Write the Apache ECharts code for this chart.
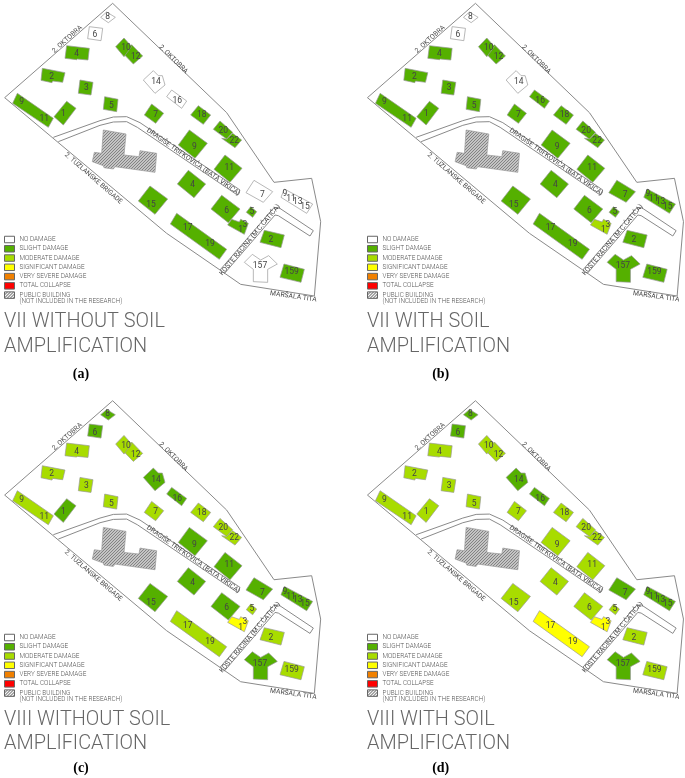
<!DOCTYPE html>
<html><head><meta charset="utf-8">
<style>html,body{margin:0;padding:0;background:#fff}#c{width:685px;height:778px}</style>
<script src="https://cdn.jsdelivr.net/npm/echarts@6/dist/echarts.min.js"></script>
</head><body><div id="c"></div>
<script>
// Site plan data, in map units shared by all four panels
const boundary = [[338,10],[680,338],[822,547],[935,535],[962,665],[943,888],[722,853],[660,810],[500,700],[14,293],[338,10]];
const roadA = [[160,412],[300,362],[340,351],[380,350],[420,368],[720,570],[712,585],[412,382],[380,365],[340,366],[300,376],[175,425]];
const roadB = [[660,810],[820,625],[835,622],[940,692],[930,708],[835,647],[825,645],[672,822]];
const buildingNames = ['b1','b9-11','b2','b3','b5','b4','b6','b8','b12','b10','b14','b16','b7','b18','b22','b20','B9','B11','B4','B15','B6','B7','b5s','b3-1','b17-19','B2','b157','b159','b9-15','pub'];
const outlines = [
 [[200,304],[228,325],[190,375],[162,350]],
 [[52,280],[160,355],[145,382],[38,310]],
 [[127,205],[195,218],[188,247],[158,243],[156,248],[123,241]],
 [[240,240],[279,247],[273,285],[235,280]],
 [[314,290],[354,298],[350,335],[310,328]],
 [[200,137],[268,145],[264,180],[232,177],[230,179],[195,175]],
 [[268,80],[308,85],[303,122],[263,116]],
 [[320,36],[346,52],[325,68],[302,52]],
 [[395,134],[428,168],[400,192],[369,160]],
 [[372,114],[395,140],[372,170],[347,140]],
 [[460,212],[475,227],[487,227],[495,255],[465,280],[430,240]],
 [[515,270],[560,303],[545,325],[500,290]],
 [[455,312],[491,340],[467,370],[433,345]],
 [[595,317],[632,345],[610,373],[572,345]],
 [[698,400],[725,420],[705,443],[665,415],[680,417]],
 [[660,363],[698,397],[680,417],[640,388]],
 [[568,390],[622,430],[585,475],[535,435]],
 [[675,465],[726,505],[690,547],[642,508]],
 [[565,511],[617,552],[582,593],[532,552]],
 [[450,558],[503,597],[465,643],[415,603]],
 [[665,586],[720,627],[685,668],[633,627]],
 [[762,541],[818,575],[790,607],[738,578]],
 [[752,620],[770,635],[758,652],[739,637]],
 [[695,658],[718,666],[722,658],[745,670],[733,703],[683,675]],
 [[530,640],[680,748],[658,778],[511,672]],
 [[793,691],[853,705],[843,743],[780,727]],
 [[733,787],[757,763],[782,780],[806,767],[832,792],[803,808],[803,847],[760,845],[760,808]],
 [[852,792],[913,808],[903,847],[840,832]],
 [[853,567],[938,612],[920,640],[843,592]],
 [[310,390],[378,402],[372,465],[417,470],[420,452],[470,460],[465,517],[345,500],[340,507],[312,503],[310,497],[277,485],[283,457],[305,460]]
];
const buildingLabels = [
 [['1',190,342]],[['9',65,307],['11',133,357]],[['2',155,230]],[['3',259,265]],[['5',334,318]],[['4',230,162]],[['6',285,106]],[['8',323,50]],
 [['12',407,172]],[['10',378,145]],[['14',468,246]],[['16',532,304]],[['7',467,344]],[['18',605,345]],[['22',703,422]],[['20',670,392]],
 [['9',583,441]],[['11',688,503]],[['4',578,556]],[['15',453,615]],[['6',680,632]],[['7',787,585]],[['5',756,635]],[['3',735,674],['1',722,690]],
 [['17',563,684],['19',630,732]],[['2',813,720]],[['157',780,798]],[['159',875,817]],[['9',855,582],['11',873,597],['13',893,607],['15',915,620]],[]
];
const streetNames = ['2. OKTOBRA','2. OKTOBRA','2. TUZLANSKE BRIGADE','DRAGIŠE TRIFKOVIĆA (BATA VIKICA)','KOSTE RACINA (M.C.ĆATIĆA)','MARŠALA TITA'];
const streetPlaces = [[202,118,42],[520,178,-45],[280,535,-41],[580,486,-35],[750,720,50],[880,890,-8]];
const damageClasses = ['NO DAMAGE','SLIGHT DAMAGE','MODERATE DAMAGE','SIGNIFICANT DAMAGE','VERY SEVERE DAMAGE','TOTAL COLLAPSE','PUBLIC BUILDING'];
// damage class of every building (order of buildingNames)
const damageVIIwithout  = [1,1,1,1,1,1,0,0,1,1,0,0,1,1,1,1,1,1,1,1,1,0,1,1,1,1,0,1,0,6];
const damageVIIwith     = [1,1,1,1,1,1,0,0,1,1,0,1,1,1,1,1,1,1,1,1,1,1,1,2,1,1,1,1,1,6];
const damageVIIIwithout = [1,2,2,2,2,2,1,1,2,2,1,1,2,2,2,2,1,1,1,1,1,1,2,3,2,2,1,2,1,6];
const damageVIIIwith    = [2,2,2,2,2,2,1,1,2,2,1,1,2,2,2,2,2,2,2,2,2,1,2,3,3,2,1,2,1,6];
const panelTitles = ['VII WITHOUT SOIL\nAMPLIFICATION','VII WITH SOIL\nAMPLIFICATION','VIII WITHOUT SOIL\nAMPLIFICATION','VIII WITH SOIL\nAMPLIFICATION'];
const panelCaptions = ['(a)','(b)','(c)','(d)'];
const legendNote = '(NOT INCLUDED IN THE RESEARCH)';

// styling & layout
function makeHatch(bg,fg,w){
 const cv=document.createElement('canvas');cv.width=3;cv.height=3;const g=cv.getContext('2d');
 g.fillStyle=bg;g.fillRect(0,0,3,3);g.strokeStyle=fg;g.lineWidth=w;
 g.beginPath();g.moveTo(-1,1);g.lineTo(1,-1);g.moveTo(-1,4);g.lineTo(4,-1);g.moveTo(2,4);g.lineTo(4,2);g.stroke();return cv;
}
const fills = ['#ffffff','#55b000','#a8dc00','#ffff00','#f08000','#ff0000',{image:makeHatch('#c4c4c4','#7c7c7c',.9),repeat:'repeat'}];
const swatches = fills.slice(0,6).concat([{image:makeHatch('#ffffff','#444444',1),repeat:'repeat'}]);
const TXT = '#555555', FONT = 'Roboto';
const panels = [
 {dx:0,dy:0,lx:4,ly:235.5,dam:damageVIIwithout},
 {dx:362.8,dy:0,lx:367,ly:235.5,dam:damageVIIwith},
 {dx:0,dy:397.4,lx:4,ly:633.5,dam:damageVIIIwithout},
 {dx:362.8,dy:397.4,lx:367,ly:633.5,dam:damageVIIIwith}
];
const capY = [374.3,374.3,768.7,768.7], capX = [81,440.7,81,440.7];

const grid=[],xAxis=[],yAxis=[],series=[],legend=[],title=[];
panels.forEach((p,pi)=>{
 grid.push({left:p.dx,top:p.dy,width:322,height:320,outerBoundsMode:'none'});
 xAxis.push({type:'value',gridIndex:pi,min:0,max:966,show:false});
 yAxis.push({type:'value',gridIndex:pi,min:0,max:960,inverse:true,show:false});
 [boundary,roadA,roadB].forEach(path=>series.push({type:'line',xAxisIndex:pi,yAxisIndex:pi,data:path,showSymbol:false,silent:true,
   lineStyle:{color:'#8a8a8a',width:1},z:1,animation:false,clip:false}));
 damageClasses.forEach((name,ci)=>{
  const data=[];
  p.dam.forEach((c,bi)=>{ if(c===ci) data.push([outlines[bi][0][0],outlines[bi][0][1],bi]); });
  series.push({type:'custom',name,xAxisIndex:pi,yAxisIndex:pi,data,animation:false,silent:true,z:2,clip:false,
   itemStyle:{color:swatches[ci]},
   renderItem:(params,api)=>{
    const bi=api.value(2);
    const kids=[{type:'polygon',shape:{points:outlines[bi].map(q=>api.coord(q))},style:{fill:fills[ci],stroke:'#999999',lineWidth:.7}}];
    buildingLabels[bi].forEach(l=>{const q=api.coord([l[1],l[2]]);
     kids.push({type:'text',x:q[0],y:q[1],style:{text:l[0],fill:'#444444',font:'400 8.5px '+FONT,align:'center',verticalAlign:'middle'}});});
    return {type:'group',children:kids};
   }});
 });
 series.push({type:'custom',xAxisIndex:pi,yAxisIndex:pi,animation:false,silent:true,z:3,clip:false,
  data:streetPlaces,
  renderItem:(params,api)=>{
   const q=api.coord([api.value(0),api.value(1)]);
   return {type:'text',x:q[0],y:q[1],rotation:api.value(2)*Math.PI/180,
    style:{text:streetNames[params.dataIndex],fill:'#4a4a4a',font:'400 6.8px '+FONT,align:'center',verticalAlign:'middle'}};
  }});
 legend.push({show:true,orient:'vertical',left:p.lx,top:p.ly,padding:0,itemWidth:10,itemHeight:6.5,itemGap:1.27,icon:'rect',selectedMode:false,
  data:damageClasses,itemStyle:{borderColor:'#666',borderWidth:1},
  textStyle:{color:TXT,fontFamily:FONT,fontWeight:300,fontSize:6.4,lineHeight:8,padding:[0,0,0,0]}});
 title.push({text:panelTitles[pi],left:p.lx,top:p.dy+310,padding:0,textStyle:{color:'#666',fontFamily:FONT,fontWeight:300,fontSize:19.9,lineHeight:24.5}});
 title.push({text:panelCaptions[pi],left:capX[pi],top:capY[pi],textAlign:'center',textVerticalAlign:'middle',padding:0,textStyle:{color:'#000',fontFamily:'Liberation Serif',fontWeight:'bold',fontSize:14}});
 title.push({text:legendNote,left:p.lx+15.5,top:p.ly+63,padding:0,textStyle:{color:TXT,fontFamily:FONT,fontSize:6.4,fontWeight:300}});
});
const chart = echarts.init(document.getElementById('c'),null,{renderer:'canvas',width:685,height:778});
chart.setOption({animation:false,backgroundColor:'#fff',grid,xAxis,yAxis,series,legend,title,tooltip:{show:false}});
</script></body></html>
